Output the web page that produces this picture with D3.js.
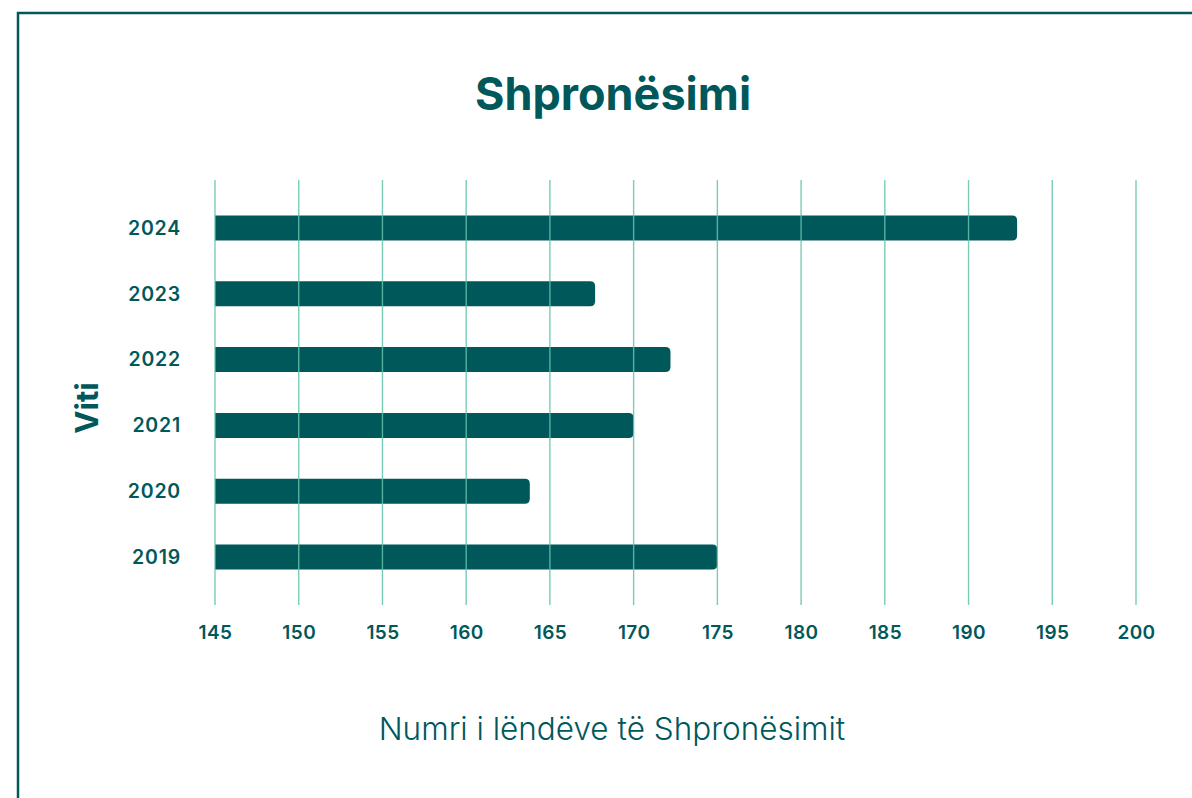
<!DOCTYPE html>
<html>
<head>
<meta charset="utf-8">
<script src="https://cdn.jsdelivr.net/npm/d3@7"></script>
<style>
  html, body { margin: 0; padding: 0; background: #ffffff; }
  svg { display: block; }
  text { font-family: Inter, "Noto Sans", sans-serif; }
</style>
</head>
<body>
<svg id="chart" width="1192" height="798"></svg>
<script>
// Data
const years = ["2024", "2023", "2022", "2021", "2020", "2019"];
const cases = [192.9, 167.7, 172.2, 170, 163.8, 175];
const xTicks = [145, 150, 155, 160, 165, 170, 175, 180, 185, 190, 195, 200];

const chartTitle = "Shpronësimi";
const xTitle = "Numri i lëndëve të Shpronësimit";
const yTitle = "Viti";

const dark = "#00585b";
const grid = "#62c3ab";

const svg = d3.select("#chart");

// Outer frame (open on the right and bottom edges of the page)
svg.append("rect")
  .attr("x", 18).attr("y", 13)
  .attr("width", 1250).attr("height", 900)
  .attr("fill", "none")
  .attr("stroke", dark)
  .attr("stroke-width", 2.5);

const x = d3.scaleLinear().domain([145, 200]).range([215, 1136]);
const y = d3.scaleBand().domain(years).range([195, 590])
  .paddingInner(0.62).paddingOuter(0.31);

const gridTop = 180, gridBottom = 605;

// Bars: square at the baseline, rounded at the value end
const r = 5;
function barPath(x0, x1, y0, h) {
  const rr = Math.min(r, (x1 - x0) / 2, h / 2);
  return `M${x0},${y0}H${x1 - rr}Q${x1},${y0} ${x1},${y0 + rr}` +
         `V${y0 + h - rr}Q${x1},${y0 + h} ${x1 - rr},${y0 + h}H${x0}Z`;
}

svg.append("g").selectAll("path")
  .data(years.map((yr, i) => ({ yr, v: cases[i] })))
  .join("path")
  .attr("d", d => barPath(x(145), x(d.v), y(d.yr), y.bandwidth()))
  .attr("fill", dark);

// Vertical gridlines drawn over the bars
svg.append("g").selectAll("line")
  .data(xTicks)
  .join("line")
  .attr("x1", d => x(d)).attr("x2", d => x(d))
  .attr("y1", gridTop).attr("y2", gridBottom)
  .attr("stroke", grid)
  .attr("stroke-opacity", 0.85)
  .attr("stroke-width", 1.4);

// X axis tick labels
const xAxis = d3.axisBottom(x).tickValues(xTicks).tickSize(0).tickPadding(0);
const gx = svg.append("g").attr("transform", `translate(0,${gridBottom})`).call(xAxis);
gx.select(".domain").remove();
gx.selectAll("text")
  .attr("y", 34)
  .attr("dy", 0)
  .attr("fill", dark)
  .style("font-size", "19px")
  .style("font-weight", 600)
  .style("letter-spacing", "0.4px");

// Y axis tick labels
const yAxis = d3.axisLeft(y).tickSize(0).tickPadding(0);
const gy = svg.append("g").attr("transform", `translate(181,0)`).call(yAxis);
gy.select(".domain").remove();
gy.selectAll("text")
  .attr("x", 0)
  .attr("dy", "0.35em")
  .attr("fill", dark)
  .style("font-size", "19.5px")
  .style("font-weight", 600)
  .style("letter-spacing", "0.8px");

// Titles
svg.append("text")
  .attr("x", 613).attr("y", 110)
  .attr("text-anchor", "middle")
  .attr("fill", dark)
  .style("font-size", "45px")
  .style("font-weight", 700)
  .text(chartTitle);

svg.append("text")
  .attr("x", 612).attr("y", 740)
  .attr("text-anchor", "middle")
  .attr("fill", dark)
  .style("font-size", "31.5px")
  .style("font-weight", 300)
  .text(xTitle);

svg.append("text")
  .attr("transform", "translate(98,408) rotate(-90)")
  .attr("text-anchor", "middle")
  .attr("fill", dark)
  .style("font-size", "31px")
  .style("font-weight", 700)
  .text(yTitle);
</script>
</body>
</html>
